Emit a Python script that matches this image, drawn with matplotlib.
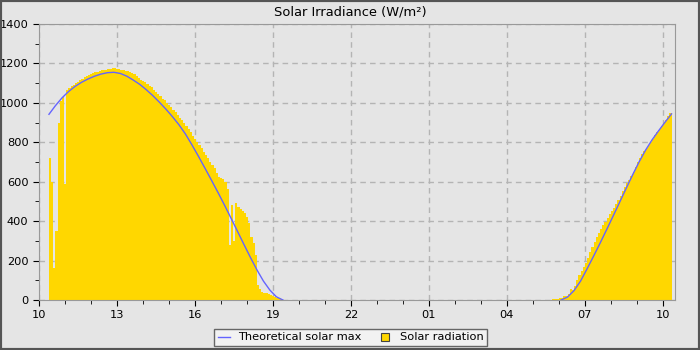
import numpy as np
import pandas as pd
import matplotlib
matplotlib.use('Agg')
import matplotlib.pyplot as plt
import matplotlib.dates as mdates
from matplotlib.lines import Line2D
from matplotlib.patches import Rectangle

plt.rcParams['font.family'] = ['DejaVu Sans']

# 5 分钟太阳辐射 (W/m²), 下午从 10:23 开始
rad_pm_start = '2024-06-01 10:23'
rad_pm = [720, 600, 160, 350, 900, 1010, 1030, 590,
          1065, 1075, 1085, 1093, 1100, 1107, 1114, 1122, 1130, 1136,
          1141, 1146, 1151, 1155, 1159, 1162, 1165, 1167, 1169, 1172,
          1174, 1175, 1176, 1174, 1171, 1168, 1166, 1163, 1160, 1155,
          1150, 1145, 1135, 1125, 1117, 1110, 1104, 1096, 1086, 1078,
          1067, 1057, 1045, 1034, 1022, 1012, 1000, 990, 978, 966,
          952, 938, 925, 912, 898, 884, 868, 850, 833, 816,
          800, 785, 770, 752, 735, 718, 700, 685, 668, 645,
          622, 620, 612, 600, 565, 280, 480, 300, 490, 470,
          460, 450, 440, 420, 390, 320, 290, 230, 75, 55,
          42, 38, 34, 30, 26, 20, 16, 12, 8, 4]
# 第二天早上从 05:45 开始
rad_am_start = '2024-06-02 05:45'
rad_am = [3, 5, 6, 10, 12, 18, 22, 30, 55, 52,
          70, 100, 125, 148, 165, 190, 215, 245, 268, 295,
          318, 340, 360, 378, 398, 415, 435, 452, 466, 485,
          505, 530, 555, 575, 592, 610, 628, 650, 675, 700,
          720, 740, 757, 772, 788, 802, 818, 835, 852, 868,
          885, 900, 915, 932, 948]

# 理论最大值, 15 分钟一个点
theo_pm_start = '2024-06-01 10:23'
theo_pm = [942, 986, 1025, 1057, 1083, 1104, 1121, 1135, 1146, 1153,
           1155, 1149, 1135, 1115, 1093, 1066, 1036, 1003, 968, 930,
           889, 842, 787, 729, 669, 608, 546, 482, 416, 349,
           282, 216, 153, 96, 50, 16, 0]
theo_am_start = '2024-06-02 06:05'
theo_am = [0, 15, 48, 96, 158, 222, 288, 356, 425, 495,
           565, 634, 700, 760, 812, 858, 902, 944]

gold = '#ffd700'
blue = '#6464ff'
bg = '#e5e5e5'

fig = plt.figure(figsize=(7, 3.5), dpi=100, facecolor=bg)
ax = fig.add_axes([39 / 700, 50 / 350, 636 / 700, 276 / 350])
ax.set_facecolor(bg)


def edges(start, n, minutes):
    return mdates.date2num(pd.date_range(start, periods=n + 1, freq=f'{minutes}min'))


for start, vals in [(rad_pm_start, rad_pm), (rad_am_start, rad_am)]:
    ax.stairs(vals, edges(start, len(vals), 5), fill=True, color=gold, lw=0, zorder=2)

for start, vals in [(theo_pm_start, theo_pm), (theo_am_start, theo_am)]:
    t = pd.date_range(start, periods=len(vals), freq='15min')
    ax.plot(mdates.date2num(t), vals, color=blue, lw=1, zorder=3)

ax.set_xlim(mdates.date2num(pd.Timestamp('2024-06-01 10:00')),
            mdates.date2num(pd.Timestamp('2024-06-02 10:28')))
ax.set_ylim(0, 1400)
ax.xaxis.set_major_locator(mdates.HourLocator(byhour=[1, 4, 7, 10, 13, 16, 19, 22]))
ax.xaxis.set_minor_locator(mdates.HourLocator())
ax.xaxis.set_major_formatter(mdates.DateFormatter('%H'))
ax.set_yticks(np.arange(0, 1401, 200))
ax.set_yticks(np.arange(0, 1401, 100), minor=True)
ax.tick_params(which='both', direction='out', colors='black', labelsize=8.2)
ax.tick_params(which='major', length=4)
ax.tick_params(which='minor', length=3)
ax.grid(True, which='major', color='#b4b4b4', linestyle=(0, (4, 3)), lw=1)
ax.set_axisbelow(True)
for s in ax.spines.values():
    s.set_color('#999999')

fig.text(0.5, 1 - 12 / 350, 'Solar Irradiance (W/m²)', fontsize=9.4,
         ha='center', va='center')

handles = [Line2D([0], [0], color=blue, lw=1),
           Line2D([0], [0], marker='s', linestyle='none', markersize=5.5,
                  markerfacecolor=gold, markeredgecolor='#444444', markeredgewidth=0.8)]
leg = fig.legend(handles, ['Theoretical solar max', 'Solar radiation'], loc='center',
                 bbox_to_anchor=(350.5 / 700, 12.5 / 350), ncol=2, fontsize=8.2,
                 fancybox=False, edgecolor='#666666', facecolor='#f2f2f2', framealpha=1,
                 handlelength=1.05, columnspacing=1.55, handletextpad=0.75, borderpad=0.35)
leg.get_frame().set_linewidth(1)

fig.add_artist(Rectangle((0, 0), 1, 1, transform=fig.transFigure, fill=False,
                         edgecolor='#555555', lw=3))

fig.savefig('out.png', dpi=100, facecolor=bg)
